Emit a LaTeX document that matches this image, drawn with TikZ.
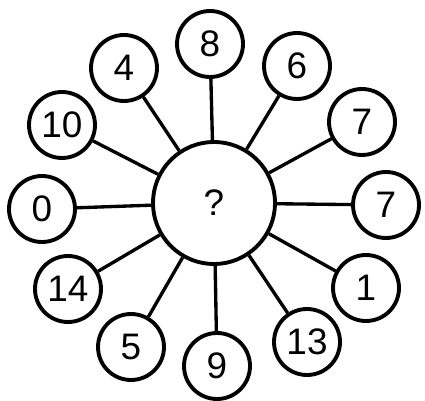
\documentclass[tikz,border=0pt]{standalone}
\usepackage{fontspec}
\setmainfont{Liberation Sans}
\usetikzlibrary{positioning}

\begin{document}
\begin{tikzpicture}[
    x=0.02cm, y=-0.02cm,
    hub/.style={
        circle,
        draw=black,
        line width=2.2pt,
        minimum size=2.44cm,
        inner sep=0pt,
        font=\fontsize{21}{23}\selectfont
    },
    petal/.style={
        circle,
        draw=black,
        line width=2.2pt,
        minimum size=1.32cm,
        inner sep=0pt,
        font=\fontsize{21}{23}\selectfont
    },
    spoke/.style={
        line width=1.9pt,
        draw=black
    }
]

\useasboundingbox (0,0) rectangle (425,401);

% --- Centre ---------------------------------------------------------------
\node[hub] (hub) at (214, 203) {?};

% --- Outer circles (clockwise from top) -----------------------------------
\node[petal] (n8)  at (210, 44)  {8};
\node[petal] (n6)  at (297, 66)  {6};
\node[petal] (n7a) at (362, 122) {7};
\node[petal] (n7b) at (386, 205) {7};
\node[petal] (n1)  at (366, 288) {1};
\node[petal] (n13) at (307, 342) {13};
\node[petal] (n9)  at (217, 366) {9};
\node[petal] (n5)  at (131, 347) {5};
\node[petal] (n14) at (68, 289)  {14};
\node[petal] (n0)  at (42, 209)  {0};
\node[petal] (n10) at (62, 125)  {10};
\node[petal] (n4)  at (124, 68)  {4};

% --- Spokes ---------------------------------------------------------------
\draw[spoke] (hub) -- (n8);
\draw[spoke] (hub) -- (n6);
\draw[spoke] (hub) -- (n7a);
\draw[spoke] (hub) -- (n7b);
\draw[spoke] (hub) -- (n1);
\draw[spoke] (hub) -- (n13);
\draw[spoke] (hub) -- (n9);
\draw[spoke] (hub) -- (n5);
\draw[spoke] (hub) -- (n14);
\draw[spoke] (hub) -- (n0);
\draw[spoke] (hub) -- (n10);
\draw[spoke] (hub) -- (n4);

\end{tikzpicture}
\end{document}
